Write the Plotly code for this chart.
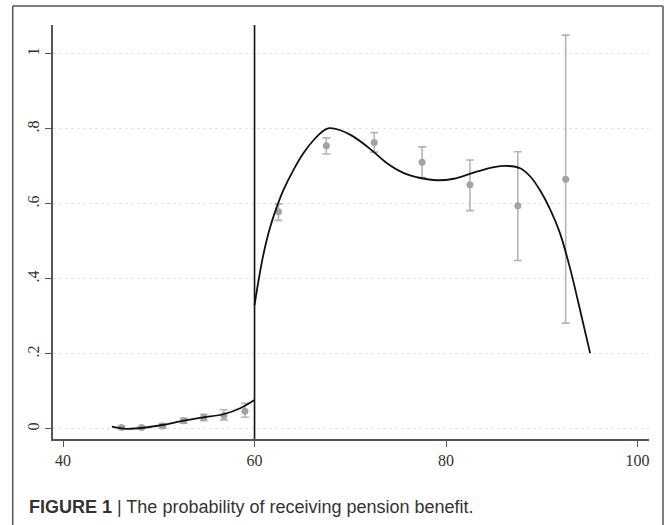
import plotly.graph_objects as go

# ---- data ----
left_age = [46.1, 48.2, 50.4, 52.6, 54.7, 56.8, 59.0]
left_mean = [0.004, 0.004, 0.008, 0.022, 0.031, 0.036, 0.047]
left_lo = [0.001, 0.001, 0.002, 0.015, 0.022, 0.024, 0.031]
left_hi = [0.007, 0.007, 0.014, 0.028, 0.039, 0.051, 0.068]

right_age = [62.5, 67.5, 72.5, 77.5, 82.5, 87.5, 92.5]
right_mean = [0.579, 0.755, 0.764, 0.711, 0.651, 0.595, 0.666]
right_lo = [0.556, 0.733, 0.738, 0.670, 0.582, 0.449, 0.282]
right_hi = [0.600, 0.776, 0.790, 0.752, 0.717, 0.739, 1.050]

left_fit_x = [45.1, 46.6, 48.4, 50.5, 52.6, 54.7, 56.75, 58.5, 60.0]
left_fit_y = [0.006, 0.000, 0.003, 0.011, 0.022, 0.031, 0.039, 0.055, 0.077]

right_fit_x = [60.0, 60.4, 60.9, 61.6, 62.3, 63.0, 64.1, 65.1, 66.2, 67.2, 67.8, 68.9,
               70.3, 72.1, 73.8, 75.6, 77.3, 79.0, 80.8, 83.2, 85.0, 86.5, 87.75,
               88.8, 89.8, 90.9, 91.9, 93.0, 94.0, 95.05]
right_fit_y = [0.330, 0.393, 0.462, 0.535, 0.590, 0.636, 0.692, 0.735, 0.771, 0.795,
               0.802, 0.797, 0.780, 0.746, 0.709, 0.682, 0.669, 0.663, 0.667, 0.686,
               0.698, 0.701, 0.695, 0.673, 0.637, 0.584, 0.522, 0.424, 0.317, 0.202]

cutoff = 60
x_ticks = [40, 60, 80, 100]
y_ticks = [0, 0.2, 0.4, 0.6, 0.8, 1]
y_tick_labels = ["0", ".2", ".4", ".6", ".8", "1"]
caption_bold = "FIGURE 1"
caption_text = "The probability of receiving pension benefit."

PT_COLOR = "#a3a3a3"
ERR_COLOR = "#b4b4b4"
TICK_FONT = dict(family="Liberation Serif, Times New Roman", size=16, color="#333333")

fig = go.Figure()

for ages, mean, lo, hi in [(left_age, left_mean, left_lo, left_hi),
                           (right_age, right_mean, right_lo, right_hi)]:
    fig.add_trace(go.Scatter(
        x=ages, y=mean, mode="markers",
        marker=dict(color=PT_COLOR, size=7),
        error_y=dict(type="data", symmetric=False,
                     array=[h - m for h, m in zip(hi, mean)],
                     arrayminus=[m - l for m, l in zip(mean, lo)],
                     color=ERR_COLOR, thickness=1.6, width=4),
        showlegend=False, hoverinfo="skip"))

for fx, fy in [(left_fit_x, left_fit_y), (right_fit_x, right_fit_y)]:
    fig.add_trace(go.Scatter(
        x=fx, y=fy, mode="lines",
        line=dict(color="#111111", width=1.8, shape="spline", smoothing=0.8),
        showlegend=False, hoverinfo="skip"))

fig.add_vline(x=cutoff, line=dict(color="#111111", width=1.6))

# outer frame (left, top, right edges)
FRAME = dict(color="#555555", width=1.5)
fx0, fx1, fy0, fy1 = -0.0676, 1.0235, -0.25, 1.0459
fig.add_shape(type="line", xref="paper", yref="paper", x0=fx0, x1=fx0, y0=fy0, y1=fy1, line=FRAME)
fig.add_shape(type="line", xref="paper", yref="paper", x0=fx0, x1=fx1, y0=fy1, y1=fy1, line=FRAME)
fig.add_shape(type="line", xref="paper", yref="paper", x0=fx1, x1=fx1, y0=fy0, y1=fy1, line=FRAME)

fig.add_annotation(
    xref="paper", yref="paper", x=-0.0441, y=-0.1643, xanchor="left", yanchor="middle",
    text=f"<b>{caption_bold}</b> | {caption_text}", showarrow=False,
    font=dict(family="Liberation Sans, Arial", size=18, color="#333333"))

fig.update_layout(
    width=667, height=525,
    margin=dict(l=53, r=18, t=25, b=86),
    paper_bgcolor="white", plot_bgcolor="white",
    xaxis=dict(range=[38.95, 101.2], tickvals=x_ticks, ticks="outside", ticklen=6,
               tickcolor="#555555", showline=True, linecolor="#555555", linewidth=1.5,
               showgrid=False, zeroline=False, tickfont=TICK_FONT),
    yaxis=dict(range=[-0.027, 1.077], tickvals=y_ticks, ticktext=y_tick_labels,
               ticks="outside", ticklen=6, tickangle=-90,
               tickcolor="#555555", showline=True, linecolor="#555555", linewidth=1.5,
               showgrid=True, gridcolor="#dce6e6", griddash="dot", gridwidth=1,
               zeroline=False, tickfont=TICK_FONT),
)

fig.write_html("out.html", config={"displayModeBar": False},
               post_script="document.body.style.margin='0';")
